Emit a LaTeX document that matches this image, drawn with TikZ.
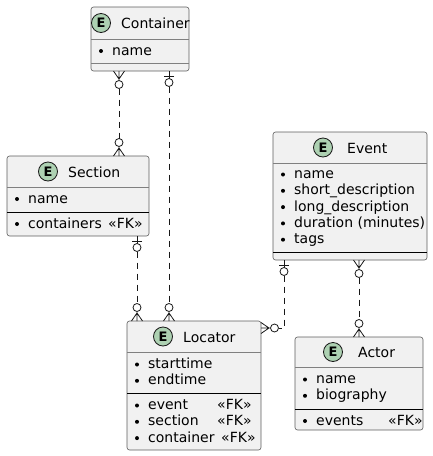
\documentclass[tikz,border=0pt]{standalone}
\usepackage{fontspec}
\setmainfont{DejaVu Sans}
\usetikzlibrary{calc}
\definecolor{boxbg}{HTML}{F1F1F1}
\definecolor{boxline}{HTML}{181818}
\definecolor{spotfill}{HTML}{ADD1B2}
\begin{document}
\begin{tikzpicture}[x=1pt,y=-1pt,
  entity/.style={draw=boxline!70, fill=boxbg, rounded corners=2.5pt, line width=0.6pt,
    inner sep=0pt, outer sep=0pt, anchor=north west},
  hsep/.style={draw=boxline!55, line width=0.6pt},
  bsep/.style={draw=black, line width=0.9pt},
  spot/.style={circle, draw=boxline, fill=spotfill, line width=0.8pt, minimum size=19pt,
    inner sep=0pt, font=\fontsize{13}{13}\selectfont\bfseries},
  title/.style={anchor=base west, inner sep=0pt, font=\fontsize{14}{16}\selectfont},
  attr/.style={anchor=base west, inner sep=0pt, font=\fontsize{14}{16}\selectfont},
  conn/.style={draw=boxline, line width=0.8pt},
  dashline/.style={conn, dash pattern=on 6pt off 5pt},
  crowzero/.pic={\draw[conn] (0,-5.5)--(8,0) (0,5.5)--(8,0) (0,0)--(9.5,0);
    \draw[conn, fill=white] (13.5,0) circle (4);},
  barzero/.pic={\draw[conn] (0,0)--(7.5,0) (5,-5)--(5,5);
    \draw[conn, fill=white] (11.5,0) circle (4);}
]
\useasboundingbox (0,0) rectangle (432,456);

% ---------- Container ----------
\node[entity, minimum width=98pt, minimum height=64pt] (container) at (91,7) {};
\draw[hsep] ($(container.north west)+(0,32)$) -- ($(container.north east)+(0,32)$);
\draw[hsep] ($(container.north west)+(0,56)$) -- ($(container.north east)+(0,56)$);
\node[spot] (containerE) at (101,23) {E};
\node[title] (containerT) at (121,28.8) {Container};
\fill (101,51) circle (2);
\node[attr] (containerA1) at (112,55) {name};

% ---------- Section ----------
\node[entity, minimum width=142pt, minimum height=80pt] (section) at (7,156) {};
\draw[hsep] ($(section.north west)+(0,31)$) -- ($(section.north east)+(0,31)$);
\draw[bsep] ($(section.north west)+(0,56)$) -- ($(section.north east)+(0,56)$);
\node[spot] (sectionE) at (48,171.5) {E};
\node[title] (sectionT) at (68,177) {Section};
\fill (17,199) circle (2);
\node[attr] (sectionA1) at (28,203) {name};
\fill (17,224) circle (2);
\node[attr] (sectionA2) at (28,228) {containers};
\node[attr] (sectionF2) at (108,228) {«FK»};

% ---------- Event ----------
\node[entity, minimum width=154pt, minimum height=128pt] (event) at (273,132) {};
\draw[hsep] ($(event.north west)+(0,31)$) -- ($(event.north east)+(0,31)$);
\draw[bsep] ($(event.north west)+(0,120)$) -- ($(event.north east)+(0,120)$);
\node[spot] (eventE) at (323,147.5) {E};
\node[title] (eventT) at (347,153) {Event};
\fill (283,174.5) circle (2);
\node[attr] (eventA1) at (294,178.5) {name};
\fill (283,190.8) circle (2);
\node[attr] (eventA2) at (294,194.8) {short\_description};
\fill (283,207.1) circle (2);
\node[attr] (eventA3) at (294,211.1) {long\_description};
\fill (283,223.4) circle (2);
\node[attr] (eventA4) at (294,227.4) {duration (minutes)};
\fill (283,239.7) circle (2);
\node[attr] (eventA5) at (294,243.7) {tags};

% ---------- Locator ----------
\node[entity, minimum width=134pt, minimum height=129pt] (locator) at (127,321) {};
\draw[hsep] ($(locator.north west)+(0,31)$) -- ($(locator.north east)+(0,31)$);
\draw[bsep] ($(locator.north west)+(0,72)$) -- ($(locator.north east)+(0,72)$);
\node[spot] (locatorE) at (163,336.5) {E};
\node[title] (locatorT) at (183,342) {Locator};
\fill (137,364.5) circle (2);
\node[attr] (locatorA1) at (148,368.5) {starttime};
\fill (137,380.8) circle (2);
\node[attr] (locatorA2) at (148,384.8) {endtime};
\fill (137,405.5) circle (2);
\node[attr] (locatorA3) at (148,409.5) {event};
\node[attr] (locatorF3) at (217,409.5) {«FK»};
\fill (137,421.8) circle (2);
\node[attr] (locatorA4) at (148,425.8) {section};
\node[attr] (locatorF4) at (217,425.8) {«FK»};
\fill (137,438.1) circle (2);
\node[attr] (locatorA5) at (148,442.1) {container};
\node[attr] (locatorF5) at (221,442.1) {«FK»};

% ---------- Actor ----------
\node[entity, minimum width=128pt, minimum height=93pt] (actor) at (295,337) {};
\draw[hsep] ($(actor.north west)+(0,30)$) -- ($(actor.north east)+(0,30)$);
\draw[bsep] ($(actor.north west)+(0,72)$) -- ($(actor.north east)+(0,72)$);
\node[spot] (actorE) at (333,352) {E};
\node[title] (actorT) at (358,357.5) {Actor};
\fill (305,379.5) circle (2);
\node[attr] (actorA1) at (316,383.5) {name};
\fill (305,395.8) circle (2);
\node[attr] (actorA2) at (316,399.8) {biography};
\fill (305,421) circle (2);
\node[attr] (actorA3) at (316,425) {events};
\node[attr] (actorF3) at (388,425) {«FK»};

% ---------- Connectors ----------
% Container }o..o{ Section
\coordinate (c1s) at ($(container.south west)+(28,0)$);
\coordinate (c1e) at ($(section.north west)+(112,0)$);
\pic[rotate=-90] at (c1s) {crowzero};
\pic[rotate=90] at (c1e) {crowzero};
\draw[dashline] ($(c1s)+(0,17.5)$) -- ($(c1e)+(0,-17.5)$);

% Container |o..o{ Locator
\coordinate (c2s) at ($(container.south west)+(78,0)$);
\coordinate (c2e) at ($(locator.north west)+(42,0)$);
\pic[rotate=-90] at (c2s) {barzero};
\pic[rotate=90] at (c2e) {crowzero};
\draw[dashline] ($(c2s)+(0,15.5)$) -- ($(c2e)+(0,-17.5)$);

% Section |o..o{ Locator
\coordinate (c3s) at ($(section.south west)+(130,0)$);
\coordinate (c3e) at ($(locator.north west)+(10,0)$);
\pic[rotate=-90] at (c3s) {barzero};
\pic[rotate=90] at (c3e) {crowzero};
\draw[dashline] ($(c3s)+(0,15.5)$) -- ($(c3e)+(0,-17.5)$);

% Event |o..o{ Locator
\coordinate (c4s) at ($(event.south west)+(11,0)$);
\coordinate (c4e) at ($(locator.north east)+(0,7)$);
\pic[rotate=-90] at (c4s) {barzero};
\pic[rotate=0] at (c4e) {crowzero};
\draw[dashline] ($(c4s)+(0,15.5)$) |- ($(c4e)+(17.5,0)$);

% Event }o..o{ Actor
\coordinate (c5s) at ($(event.south west)+(86,0)$);
\coordinate (c5e) at ($(actor.north west)+(64,0)$);
\pic[rotate=-90] at (c5s) {crowzero};
\pic[rotate=90] at (c5e) {crowzero};
\draw[dashline] ($(c5s)+(0,17.5)$) -- ($(c5e)+(0,-17.5)$);
\end{tikzpicture}
\end{document}
